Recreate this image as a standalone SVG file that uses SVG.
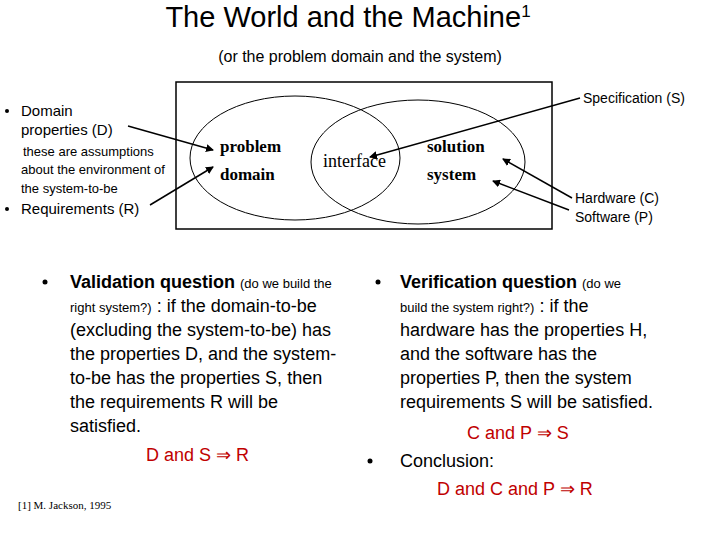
<svg xmlns="http://www.w3.org/2000/svg" width="720" height="540" viewBox="0 0 720 540">
<style>
.s{font-family:"Liberation Sans",Arial,sans-serif;fill:#000}
.t{font-family:"Liberation Serif","Times New Roman",serif;font-weight:bold;font-size:17px}
.n{font-family:"Liberation Serif","Times New Roman",serif;font-size:18px}
.b{font-size:18px}
.sm{font-size:13px}
.ln{stroke:#000;stroke-width:1.5;fill:none;marker-end:url(#a)}
</style>
<defs><marker id="a" markerWidth="8" markerHeight="8" refX="7" refY="4" orient="auto" markerUnits="userSpaceOnUse"><path d="M0,0 L8,4 L0,8 Z" fill="#000"/></marker></defs>
<rect width="720" height="540" fill="#fff"/>
<text class="s" x="348" y="27" font-size="29" text-anchor="middle">The World and the Machine<tspan font-size="17" dy="-10">1</tspan></text>
<text class="s" x="360" y="62" font-size="16" text-anchor="middle">(or the problem domain and the system)</text>
<g id="box"><rect x="176" y="82" width="376" height="147" fill="none" stroke="#000" stroke-width="1.5"/></g>
<g id="problem-domain"><ellipse cx="295" cy="158" rx="105" ry="62" fill="none" stroke="#000"/>
<text class="t" x="220" y="152">problem</text><text class="t" x="220" y="180">domain</text></g>
<g id="solution-system"><ellipse cx="418" cy="162" rx="107" ry="62" fill="none" stroke="#000"/>
<text class="t" x="427" y="152">solution</text><text class="t" x="427" y="180">system</text></g>
<g id="interface"><text class="n" x="323" y="167">interface</text></g>
<g id="left-labels">
<circle cx="7" cy="111" r="2"/><text class="s" x="21" y="116" font-size="15">Domain</text>
<text class="s" x="21" y="135" font-size="15">properties (D)</text>
<text class="s sm" x="23" y="156">these are assumptions</text>
<text class="s sm" x="21" y="174">about the environment of</text>
<text class="s sm" x="21" y="193">the system-to-be</text>
<circle cx="7" cy="209" r="2"/><text class="s" x="21" y="214" font-size="15">Requirements (R)</text>
</g>
<g id="right-labels">
<text class="s" x="583" y="103" font-size="14">Specification (S)</text>
<text class="s" x="575" y="203" font-size="14">Hardware (C)</text>
<text class="s" x="575" y="222" font-size="14">Software (P)</text>
</g>
<g id="connectors">
<line class="ln" x1="128" y1="126" x2="213" y2="150"/>
<line class="ln" x1="150" y1="205" x2="213" y2="167"/>
<line class="ln" x1="580" y1="98" x2="370" y2="157"/>
<line class="ln" x1="572" y1="198" x2="503" y2="159"/>
<line class="ln" x1="569" y1="210" x2="493" y2="181"/>
</g>
<g id="validation">
<circle cx="45" cy="282" r="2.5"/>
<text x="70" y="288" class="s b" font-weight="bold">Validation question <tspan font-weight="normal" font-size="13">(do we build the</tspan></text>
<text x="70" y="312" class="s b"><tspan font-size="13">right system?)</tspan> : if the domain-to-be</text>
<text x="70" y="336" class="s b">(excluding the system-to-be) has</text>
<text x="70" y="360" class="s b">the properties D, and the system-</text>
<text x="70" y="384" class="s b">to-be has the properties S, then</text>
<text x="70" y="408" class="s b">the requirements R will be</text>
<text x="70" y="432" class="s b">satisfied.</text>
<text x="146" y="461" class="s b" style="fill:#c00000">D and S ⇒ R</text>
</g>
<g id="verification">
<circle cx="378" cy="282" r="2.5"/>
<text x="400" y="288" class="s b" font-weight="bold">Verification question <tspan font-weight="normal" font-size="13">(do we</tspan></text>
<text x="400" y="312" class="s b"><tspan font-size="13">build the system right?)</tspan> : if the</text>
<text x="400" y="336" class="s b">hardware has the properties H,</text>
<text x="400" y="360" class="s b">and the software has the</text>
<text x="400" y="384" class="s b">properties P, then the system</text>
<text x="400" y="408" class="s b">requirements S will be satisfied.</text>
<text x="467" y="439" class="s b" style="fill:#c00000">C and P ⇒ S</text>
<circle cx="370" cy="461" r="2.5"/>
<text x="400" y="467" class="s b">Conclusion:</text>
<text x="437" y="495" class="s b" style="fill:#c00000">D and C and P ⇒ R</text>
</g>
<text x="18" y="509" font-family="Liberation Serif,serif" font-size="11">[1] M. Jackson, 1995</text>
</svg>
